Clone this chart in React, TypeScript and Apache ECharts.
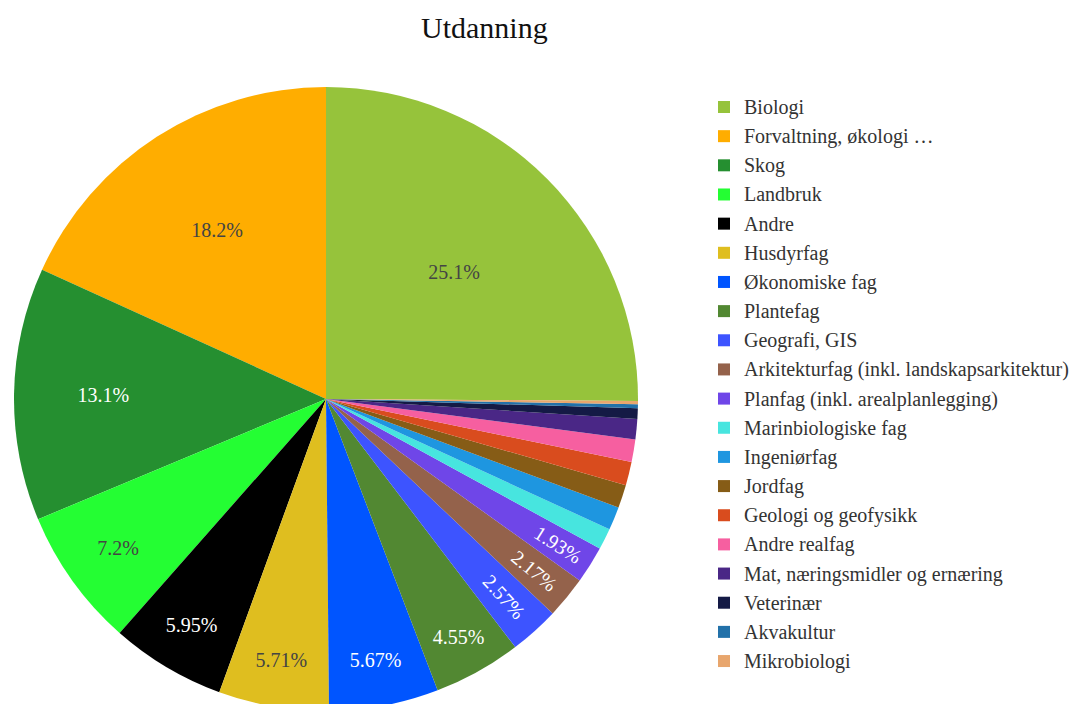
import React, { useEffect, useRef } from "react";
import * as echarts from "echarts";

const categories = [
  "Biologi",
  "Forvaltning, økologi …",
  "Skog",
  "Landbruk",
  "Andre",
  "Husdyrfag",
  "Økonomiske fag",
  "Plantefag",
  "Geografi, GIS",
  "Arkitekturfag (inkl. landskapsarkitektur)",
  "Planfag (inkl. arealplanlegging)",
  "Marinbiologiske fag",
  "Ingeniørfag",
  "Jordfag",
  "Geologi og geofysikk",
  "Andre realfag",
  "Mat, næringsmidler og ernæring",
  "Veterinær",
  "Akvakultur",
  "Mikrobiologi",
];

const values = [
  25.1, 18.2, 13.1, 7.2, 5.95, 5.71, 5.67, 4.55, 2.57, 2.17, 1.93, 1.1, 1.2,
  1.2, 1.22, 1.17, 1.05, 0.55, 0.2, 0.17,
];

const colors = [
  "#96c33b",
  "#ffad00",
  "#258f30",
  "#24fe33",
  "#000000",
  "#dfbe1f",
  "#0055ff",
  "#528832",
  "#3d54ff",
  "#94624b",
  "#6f46e8",
  "#47e5df",
  "#1e96e0",
  "#865c16",
  "#d94c1e",
  "#f65fa0",
  "#4a2786",
  "#141a45",
  "#2271a9",
  "#e8a66d",
];

// label styling (not data): which labels show, colours, radial placement
const labelColors = [
  "#444", "#444", "#fff", "#444", "#fff", "#444", "#fff", "#fff", "#fff", "#fff", "#fff",
];
const labelRadiusFactor = [
  0.579, 0.645, 0.714, 0.82, 0.844, 0.849, 0.851, 0.872, 0.853, 0.865, 0.878,
];
const radialLabels = [8, 9, 10];

const FONT = "'Liberation Serif', 'Times New Roman', serif";
const CX = 326;
const CY = 399;
const R = 312;

export default function App() {
  const ref = useRef<HTMLDivElement>(null);

  useEffect(() => {
    if (!ref.current) return;
    const chart = echarts.init(ref.current, undefined, { renderer: "svg" });
    const total = values.reduce((a, b) => a + b, 0);
    const startAngle = 90 - (values[0] / total) * 360;

    const data = categories.map((name, i) => {
      const showLabel = i < labelColors.length;
      return {
        name,
        value: values[i],
        itemStyle: { color: colors[i] },
        label: showLabel
          ? {
              show: true,
              color: labelColors[i],
              rotate: radialLabels.includes(i) ? "radial" : 0,
            }
          : { show: false },
      };
    });

    chart.setOption({
      animation: false,
      backgroundColor: "#fff",
      title: {
        text: "Utdanning",
        left: 421,
        top: 12,
        padding: 0,
        textStyle: {
          fontFamily: FONT,
          fontSize: 30,
          fontWeight: "normal",
          color: "#111",
        },
      },
      legend: {
        orient: "vertical",
        left: 718,
        top: 97,
        padding: 0,
        itemWidth: 12,
        itemHeight: 12,
        itemGap: 9.16,
        icon: "rect",
        selectedMode: false,
        data: categories,
        textStyle: {
          fontFamily: FONT,
          fontSize: 20,
          lineHeight: 20,
          color: "#333",
          padding: [0, 0, 0, 9],
        },
      },
      series: [
        {
          type: "pie",
          center: [CX, CY],
          radius: [0, R],
          startAngle,
          clockwise: false,
          avoidLabelOverlap: false,
          minShowLabelAngle: 0,
          itemStyle: { borderWidth: 0 },
          emphasis: { disabled: true },
          label: {
            position: "inside",
            formatter: "{c}%",
            fontFamily: FONT,
            fontSize: 20,
          },
          labelLine: { show: false },
          labelLayout: (p: any) => {
            const f = labelRadiusFactor[p.dataIndex];
            if (f == null || !p.labelRect) return {};
            const r = p.labelRect;
            const lx = r.x + r.width / 2;
            const ly = r.y + r.height / 2;
            const dx = lx - CX;
            const dy = ly - CY;
            const d = Math.hypot(dx, dy) || 1;
            return { x: CX + (dx / d) * f * R, y: CY + (dy / d) * f * R };
          },
          data,
        },
      ],
    });

    return () => chart.dispose();
  }, []);

  return (
    <div
      ref={ref}
      style={{ position: "fixed", left: 0, top: 0, width: 1072, height: 704 }}
    />
  );
}
